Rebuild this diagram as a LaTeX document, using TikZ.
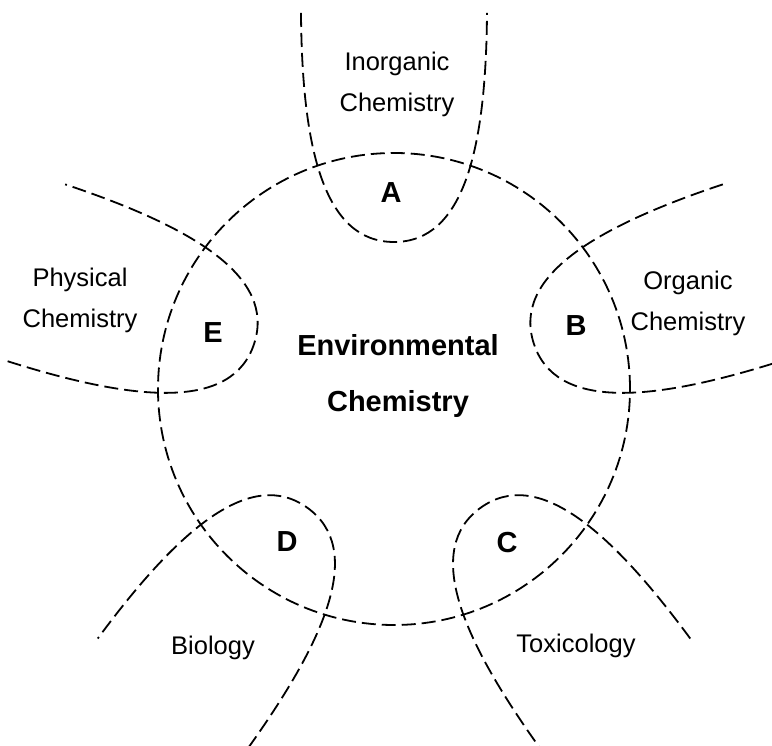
\documentclass[tikz,border=0pt]{standalone}
\usepackage{fontspec}
\setmainfont{Liberation Sans}
\begin{document}
\begin{tikzpicture}[x=1pt,y=1pt,
  dline/.style={line width=1.8pt, dash pattern=on 14pt off 6pt, line cap=butt},
  field/.style={font=\fontsize{25.5}{41}\selectfont, align=center, inner sep=0pt},
  zone/.style={font=\fontsize{29}{29}\selectfont\bfseries, inner sep=0pt},
  core/.style={font=\fontsize{29}{56}\selectfont\bfseries, align=center, inner sep=0pt}]
\useasboundingbox (-394,-357) rectangle (378,389);
\clip (-394,-357) rectangle (378,389);
% central circle
\draw[dline] (0,0) circle[radius=236];
% petals
\foreach \r in {0,-72,-144,144,72}{
  \draw[dline, rotate=\r] (-93,376) .. controls (-92,240) and (-70,147) .. (0,147)
        .. controls (70,147) and (92,240) .. (93,376);
}
% overlap labels
\node[zone] (A) at (-3,196) {A};
\node[zone] (B) at (182,63) {B};
\node[zone] (C) at (113,-154) {C};
\node[zone] (D) at (-107,-153) {D};
\node[zone] (E) at (-181,56) {E};
% field labels
\node[core] (env) at (4,13) {Environmental\\Chemistry};
\node[field] (inorg) at (3,305) {Inorganic\\Chemistry};
\node[field] (org) at (294,86) {Organic\\Chemistry};
\node[field] (phys) at (-314,89) {Physical\\Chemistry};
\node[field, anchor=base] (bio) at (-181,-266) {Biology};
\node[field, anchor=base] (tox) at (182,-264) {Toxicology};
\end{tikzpicture}
\end{document}
